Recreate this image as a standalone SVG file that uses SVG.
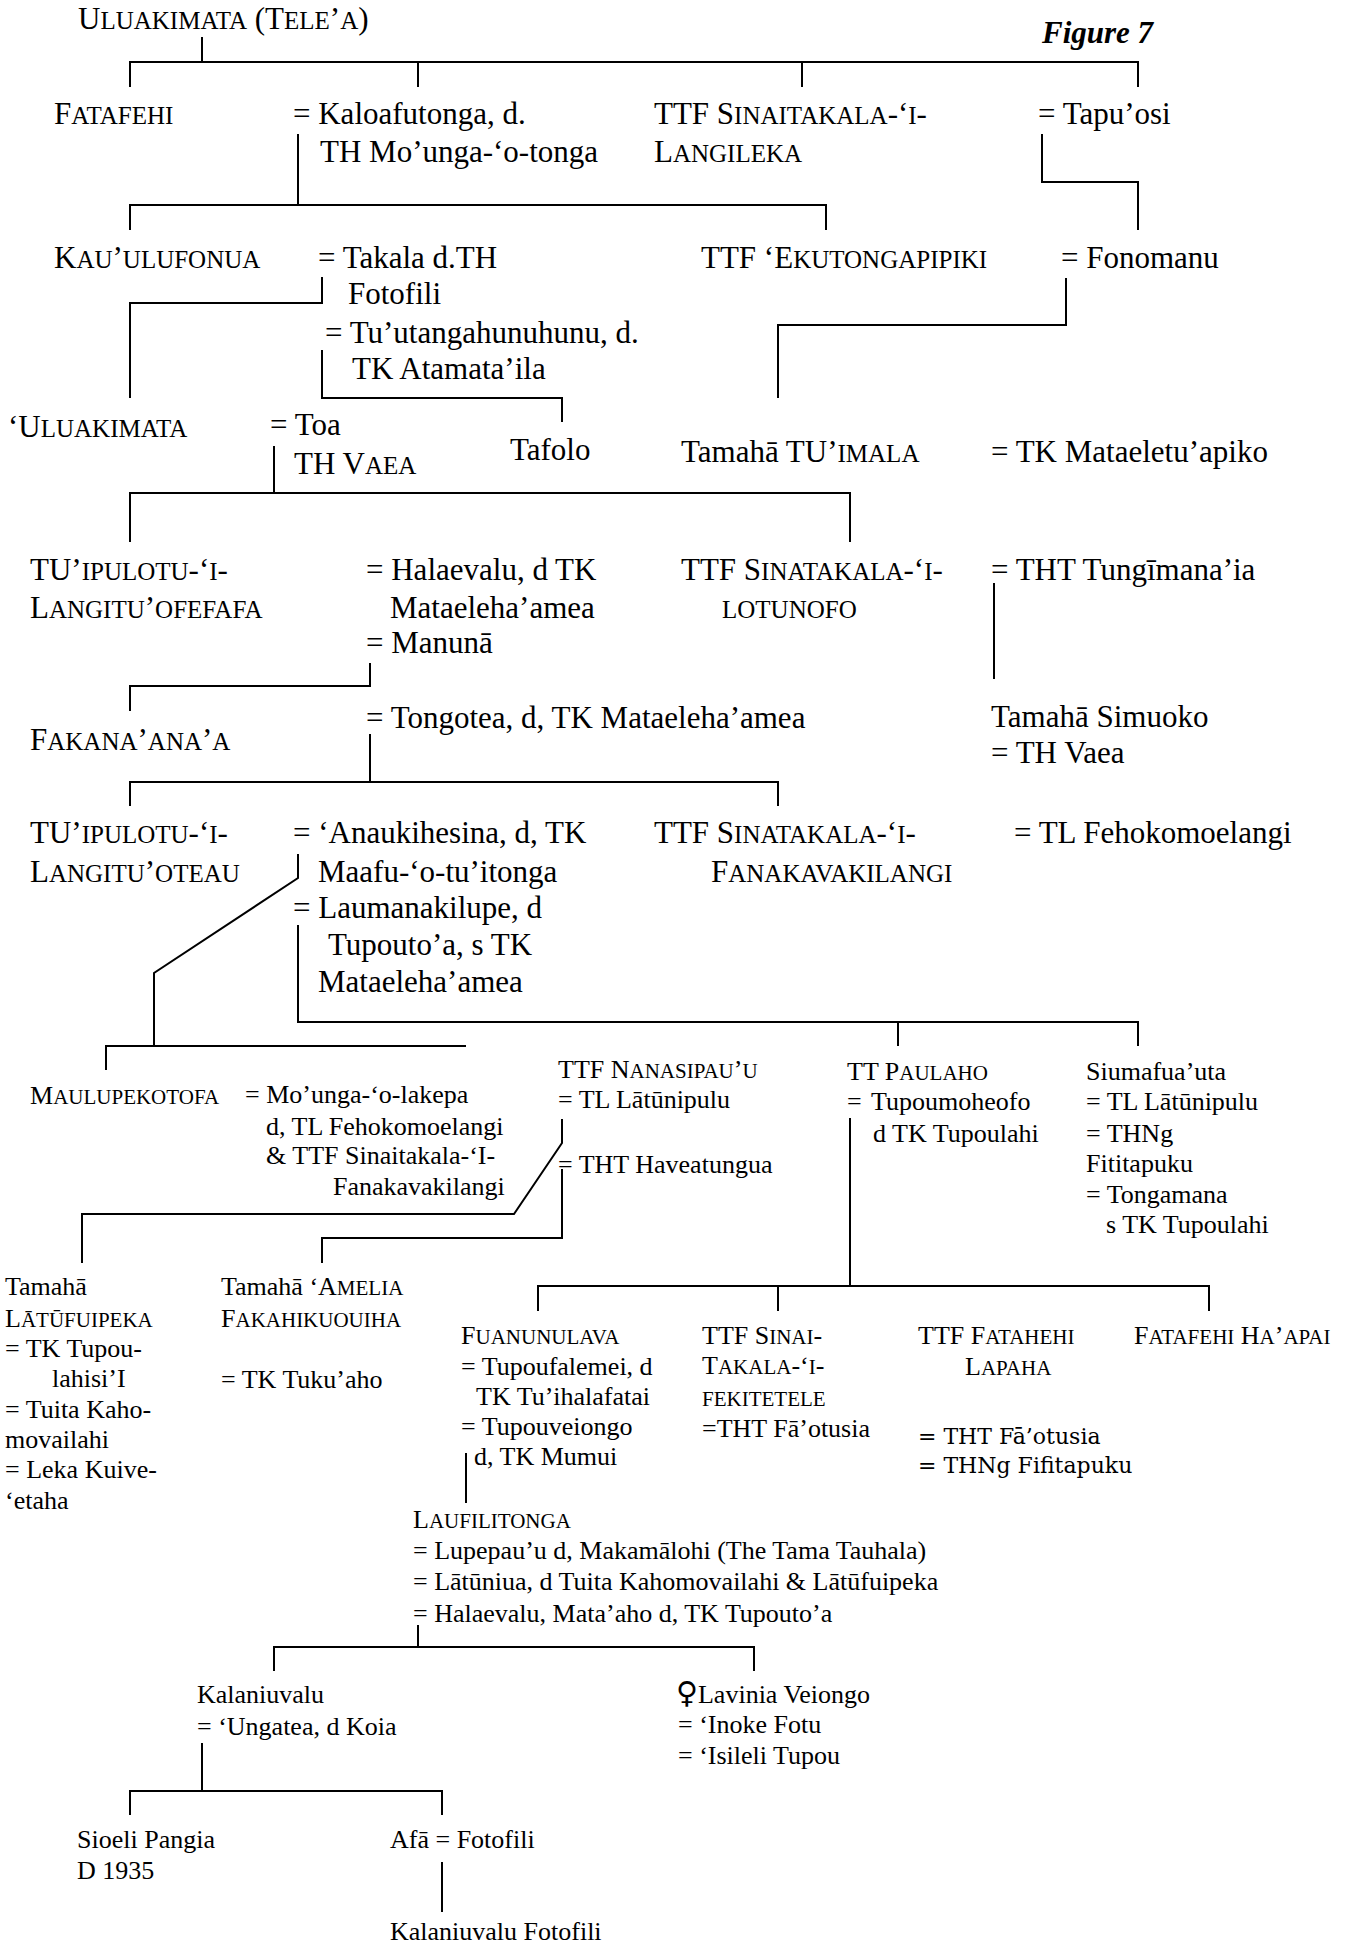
<svg xmlns="http://www.w3.org/2000/svg" width="1346" height="1946" viewBox="0 0 1346 1946">
<style>
text{font-family:"Liberation Serif","Times New Roman","DejaVu Serif",serif;fill:#000}
.t{font-size:31px}
.s{font-size:25px}
.u{font-size:26px}
.us{font-size:21px}
.sym{font-family:"DejaVu Sans",sans-serif;font-size:30px}
.dj{font-family:"DejaVu Serif",serif;font-size:22px}
.fig{font-size:31px;font-weight:bold;font-style:italic}
#connectors path{fill:none;stroke:#000;stroke-width:2}
</style>
<rect width="1346" height="1946" fill="#fff"/>
<g id="connectors">
<path d="M202 37V62M130 87V62H1138V87M418 62V87M802 62V87"/>
<path d="M298 134V205M130 230V205H826V230"/>
<path d="M1042 134V182H1138V230"/>
<path d="M322 277V303H130V398"/>
<path d="M1066 278V325H778V398"/>
<path d="M322 350V398H562V422"/>
<path d="M274 446V493M130 542V493H850V542"/>
<path d="M994 583V679"/>
<path d="M370 663V686H130V711"/>
<path d="M370 734V782M130 806V782H778V806"/>
<path d="M298 854V878L154 973V1046M106 1070V1046H466"/>
<path d="M298 925V1022H1138V1046M898 1022V1046"/>
<path d="M562 1119V1143L514 1214H82V1263"/>
<path d="M562 1169V1238H322V1263"/>
<path d="M850 1118V1286M538 1311V1286H1209V1311M778 1286V1311"/>
<path d="M466 1453V1503"/>
<path d="M418 1625V1647M274 1671V1647H754V1671"/>
<path d="M202 1743V1791M130 1815V1791H442V1815"/>
<path d="M442 1862V1912"/>
</g>
<g id="title"><text class="fig" x="1042" y="43">Figure 7</text></g>
<g id="n-uluakimata-telea"><text class="t" x="78" y="29">U<tspan class="s">LUAKIMATA</tspan> (T<tspan class="s">ELE</tspan>’<tspan class="s">A</tspan>)</text></g>
<g id="n-fatafehi"><text class="t" x="54" y="124">F<tspan class="s">ATAFEHI</tspan></text></g>
<g id="n-kaloafutonga"><text class="t" x="293" y="124">= Kaloafutonga, d.</text><text class="t" x="320" y="162">TH Mo’unga-‘o-tonga</text></g>
<g id="n-sinaitakala-langileka"><text class="t" x="654" y="124">TTF S<tspan class="s">INAITAKALA</tspan>-‘<tspan class="s">I</tspan>-</text><text class="t" x="654" y="162">L<tspan class="s">ANGILEKA</tspan></text></g>
<g id="n-tapuosi"><text class="t" x="1038" y="124">= Tapu’osi</text></g>
<g id="n-kauulufonua"><text class="t" x="54" y="268">K<tspan class="s">AU</tspan>’<tspan class="s">ULUFONUA</tspan></text></g>
<g id="n-takala"><text class="t" x="318" y="268">= Takala d.TH</text><text class="t" x="348" y="304">Fotofili</text></g>
<g id="n-ekutongapipiki"><text class="t" x="701" y="268">TTF ‘E<tspan class="s">KUTONGAPIPIKI</tspan></text></g>
<g id="n-fonomanu"><text class="t" x="1061" y="268">= Fonomanu</text></g>
<g id="n-tuutangahunuhunu"><text class="t" x="325" y="343">= Tu’utangahunuhunu, d.</text><text class="t" x="352" y="379">TK Atamata’ila</text></g>
<g id="n-uluakimata"><text class="t" x="8" y="437">‘U<tspan class="s">LUAKIMATA</tspan></text></g>
<g id="n-toa"><text class="t" x="270" y="435">= Toa</text><text class="t" x="294" y="474">TH V<tspan class="s">AEA</tspan></text></g>
<g id="n-tafolo"><text class="t" x="510" y="460">Tafolo</text></g>
<g id="n-tuimala"><text class="t" x="681" y="462">Tamahā TU’<tspan class="s">IMALA</tspan></text></g>
<g id="n-mataeletuapiko"><text class="t" x="991" y="462">= TK Mataeletu’apiko</text></g>
<g id="n-tuipulotu-ofefafa"><text class="t" x="30" y="580">TU’<tspan class="s">IPULOTU</tspan>-‘<tspan class="s">I</tspan>-</text><text class="t" x="30" y="618">L<tspan class="s">ANGITU</tspan>’<tspan class="s">OFEFAFA</tspan></text></g>
<g id="n-halaevalu"><text class="t" x="366" y="580">= Halaevalu, d TK</text><text class="t" x="390" y="618">Mataeleha’amea</text><text class="t" x="366" y="653">= Manunā</text></g>
<g id="n-sinatakala-lotunofo"><text class="t" x="681" y="580">TTF S<tspan class="s">INATAKALA</tspan>-‘<tspan class="s">I</tspan>-</text><text class="t" x="722" y="618"><tspan class="s">LOTUNOFO</tspan></text></g>
<g id="n-tungimanaia"><text class="t" x="991" y="580">= THT Tungīmana’ia</text></g>
<g id="n-fakanaanaa"><text class="t" x="30" y="750">F<tspan class="s">AKANA</tspan>’<tspan class="s">ANA</tspan>’<tspan class="s">A</tspan></text></g>
<g id="n-tongotea"><text class="t" x="366" y="728">= Tongotea, d, TK Mataeleha’amea</text></g>
<g id="n-simuoko"><text class="t" x="991" y="727">Tamahā Simuoko</text><text class="t" x="991" y="763">= TH Vaea</text></g>
<g id="n-tuipulotu-oteau"><text class="t" x="30" y="843">TU’<tspan class="s">IPULOTU</tspan>-‘<tspan class="s">I</tspan>-</text><text class="t" x="30" y="882">L<tspan class="s">ANGITU</tspan>’<tspan class="s">OTEAU</tspan></text></g>
<g id="n-anaukihesina"><text class="t" x="293" y="843">= ‘Anaukihesina, d, TK</text><text class="t" x="318" y="882">Maafu-‘o-tu’itonga</text><text class="t" x="293" y="918">= Laumanakilupe, d</text><text class="t" x="328" y="955">Tupouto’a, s TK</text><text class="t" x="318" y="992">Mataeleha’amea</text></g>
<g id="n-sinatakala-fanakavakilangi"><text class="t" x="654" y="843">TTF S<tspan class="s">INATAKALA</tspan>-‘<tspan class="s">I</tspan>-</text><text class="t" x="711" y="882">F<tspan class="s">ANAKAVAKILANGI</tspan></text></g>
<g id="n-fehokomoelangi"><text class="t" x="1014" y="843">= TL Fehokomoelangi</text></g>
<g id="n-maulupekotofa"><text class="u" x="30" y="1104">M<tspan class="us">AULUPEKOTOFA</tspan></text><text class="u" x="245" y="1103">= Mo’unga-‘o-lakepa</text><text class="u" x="266" y="1135">d, TL Fehokomoelangi</text><text class="u" x="266" y="1164">&amp; TTF Sinaitakala-‘I-</text><text class="u" x="333" y="1195">Fanakavakilangi</text></g>
<g id="n-nanasipauu"><text class="u" x="558" y="1078">TTF N<tspan class="us">ANASIPAU</tspan>’<tspan class="us">U</tspan></text><text class="u" x="558" y="1108">= TL Lātūnipulu</text><text class="u" x="558" y="1173">= THT Haveatungua</text></g>
<g id="n-paulaho"><text class="u" x="847" y="1080">TT P<tspan class="us">AULAHO</tspan></text><text class="u" x="847" y="1110">=</text><text class="u" x="871" y="1110">Tupoumoheofo</text><text class="u" x="873" y="1142">d TK Tupoulahi</text></g>
<g id="n-siumafuauta"><text class="u" x="1086" y="1080">Siumafua’uta</text><text class="u" x="1086" y="1110">= TL Lātūnipulu</text><text class="u" x="1086" y="1142">= THNg</text><text class="u" x="1086" y="1172">Fititapuku</text><text class="u" x="1086" y="1203">= Tongamana</text><text class="u" x="1106" y="1233">s TK Tupoulahi</text></g>
<g id="n-latufuipeka"><text class="u" x="5" y="1295">Tamahā</text><text class="u" x="5" y="1327">L<tspan class="us">ĀTŪFUIPEKA</tspan></text><text class="u" x="5" y="1357">= TK Tupou-</text><text class="u" x="52" y="1387">lahisi’I</text><text class="u" x="5" y="1418">= Tuita Kaho-</text><text class="u" x="5" y="1448">movailahi</text><text class="u" x="5" y="1478">= Leka Kuive-</text><text class="u" x="5" y="1509">‘etaha</text></g>
<g id="n-amelia"><text class="u" x="221" y="1295">Tamahā ‘A<tspan class="us">MELIA</tspan></text><text class="u" x="221" y="1327">F<tspan class="us">AKAHIKUOUIHA</tspan></text><text class="u" x="221" y="1388">= TK Tuku’aho</text></g>
<g id="n-fuanunulava"><text class="u" x="461" y="1344">F<tspan class="us">UANUNULAVA</tspan></text><text class="u" x="461" y="1375">= Tupoufalemei, d</text><text class="u" x="476" y="1405">TK Tu’ihalafatai</text><text class="u" x="461" y="1435">= Tupouveiongo</text><text class="u" x="474" y="1465">d, TK Mumui</text></g>
<g id="n-sinai-fekitetele"><text class="u" x="702" y="1344">TTF S<tspan class="us">INAI</tspan>-</text><text class="u" x="702" y="1374">T<tspan class="us">AKALA</tspan>-‘<tspan class="us">I</tspan>-</text><text class="u" x="702" y="1406"><tspan class="us">FEKITETELE</tspan></text><text class="u" x="702" y="1437">=THT Fā’otusia</text></g>
<g id="n-fatahehi-lapaha"><text class="u" x="918" y="1344">TTF F<tspan class="us">ATAHEHI</tspan></text><text class="u" x="965" y="1375">L<tspan class="us">APAHA</tspan></text><text class="dj" x="918" y="1444">= THT Fā’otusia</text><text class="dj" x="918" y="1473">= THNg Fifitapuku</text></g>
<g id="n-fatafehi-haapai"><text class="u" x="1134" y="1344">F<tspan class="us">ATAFEHI</tspan> H<tspan class="us">A</tspan>’<tspan class="us">APAI</tspan></text></g>
<g id="n-laufilitonga"><text class="u" x="413" y="1528">L<tspan class="us">AUFILITONGA</tspan></text><text class="u" x="413" y="1559">= Lupepau’u d, Makamālohi (The Tama Tauhala)</text><text class="u" x="413" y="1590">= Lātūniua, d Tuita Kahomovailahi &amp; Lātūfuipeka</text><text class="u" x="413" y="1622">= Halaevalu, Mata’aho d, TK Tupouto’a</text></g>
<g id="n-kalaniuvalu"><text class="u" x="197" y="1703">Kalaniuvalu</text><text class="u" x="197" y="1735">= ‘Ungatea, d Koia</text></g>
<g id="n-lavinia"><text class="u" x="676" y="1703"><tspan class="sym">♀</tspan>Lavinia Veiongo</text><text class="u" x="678" y="1733">= ‘Inoke Fotu</text><text class="u" x="678" y="1764">= ‘Isileli Tupou</text></g>
<g id="n-sioeli"><text class="u" x="77" y="1848">Sioeli Pangia</text><text class="u" x="77" y="1879">D 1935</text></g>
<g id="n-afa"><text class="u" x="390" y="1848">Afā = Fotofili</text></g>
<g id="n-kalaniuvalu-fotofili"><text class="u" x="390" y="1940">Kalaniuvalu Fotofili</text></g>
</svg>
